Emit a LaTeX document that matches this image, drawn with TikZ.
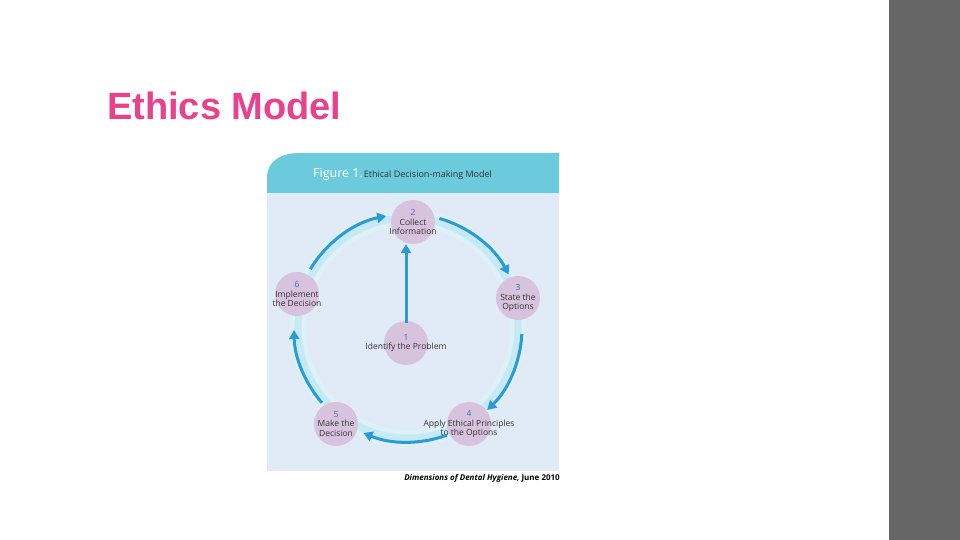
\documentclass[tikz,border=0pt]{standalone}
\usepackage{fontspec}
\setmainfont{Liberation Sans}
\newfontfamily\fig{Open Sans}
\usetikzlibrary{arrows.meta}
\definecolor{pinkT}{HTML}{E8428C}
\definecolor{barG}{HTML}{666666}
\definecolor{teal}{HTML}{6CCADD}
\definecolor{bodyB}{HTML}{E1EBF8}
\definecolor{ringC}{HTML}{C6E9F4}
\definecolor{arrB}{HTML}{2A9BD6}
\definecolor{circF}{HTML}{D8C3DF}
\definecolor{numB}{HTML}{3A6FB5}
\definecolor{txtG}{HTML}{333333}
\begin{document}
\begin{tikzpicture}[x=1pt,y=1pt,
  stage/.style={circle,fill=circF,minimum size=44pt,inner sep=0pt},
  stxt/.style={align=center,inner sep=0pt,font=\fig\fontsize{8.5}{9.5}\selectfont,text=txtG},
  cyc/.style={arrB,line width=3pt,-{Triangle[length=9pt,width=10pt]}}]
\useasboundingbox (0,0) rectangle (960,540);
\fill[white] (0,0) rectangle (960,540);
\fill[barG] (889,0) rectangle (960,540);
\node[anchor=base west,text=pinkT,font=\fontsize{38}{44}\selectfont\bfseries,inner sep=0pt] (title) at (107,420) {Ethics Model};
% figure
\fill[bodyB] (267,69) rectangle (559,347);
\fill[teal] (267,347) -- (267,362) .. controls (267,380) and (282,387) .. (300,387) -- (559,387) -- (559,347) -- cycle;
\node[anchor=west,font=\fig,inner sep=0pt] (cap) at (313,366) {{\color{white}\fontsize{12.5}{13}\selectfont Figure 1.}\hspace{1pt}{\color{txtG}\fontsize{9}{10}\selectfont Ethical Decision-making Model}};
\coordinate (ctr) at (408,212);
\draw[ringC!60,line width=16pt] (ctr) circle (110);
\draw[ringC,line width=7pt] (ctr) circle (110);
\node[stage] (n2) at (413,318) {};
\node[stage] (n3) at (518,242) {};
\node[stage] (n1) at (406,197) {};
\node[stage] (n4) at (469,116) {};
\node[stage] (n5) at (336,116) {};
\node[stage] (n6) at (297,246) {};
\node[stxt] (t2) at (n2) {{\color{numB}2}\\Collect\\Information};
\node[stxt] (t3) at (n3) {{\color{numB}3}\\State the\\Options};
\node[stxt] (t1) at (n1) {{\color{numB}1}\\Identify the Problem};
\node[stxt] (t4) at (n4) {{\color{numB}4}\\Apply Ethical Principles\\to the Options};
\node[stxt] (t5) at (n5) {{\color{numB}5}\\Make the\\Decision};
\node[stxt] (t6) at (n6) {{\color{numB}6}\\Implement\\the Decision};
\draw[cyc] ([shift={(149:114)}]ctr) arc[start angle=149,end angle=101,radius=114];
\draw[cyc] ([shift={(74:114)}]ctr) arc[start angle=74,end angle=28,radius=114];
\draw[cyc] ([shift={(-3:114)}]ctr) arc[start angle=-3,end angle=-46,radius=114];
\draw[cyc] ([shift={(-70:114)}]ctr) arc[start angle=-70,end angle=-113,radius=114];
\draw[cyc] ([shift={(-139:114)}]ctr) arc[start angle=-139,end angle=-179,radius=114];
\draw[cyc] ([yshift=-2pt]n1.north) -- (n1.north |- n2.south);
\node[anchor=east,font=\fig\fontsize{8}{9}\selectfont\bfseries,text=black,inner sep=0pt] (src) at (560,62) {\itshape Dimensions of Dental Hygiene,\upshape\ June 2010};
\end{tikzpicture}
\end{document}
